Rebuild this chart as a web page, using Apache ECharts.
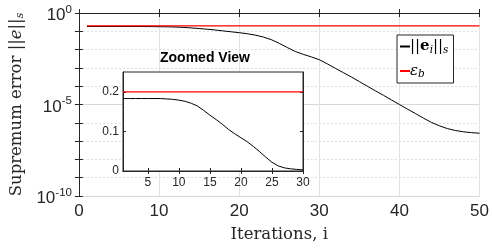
<!DOCTYPE html>
<html>
<head>
<meta charset="utf-8">
<script src="https://cdn.jsdelivr.net/npm/echarts@6/dist/echarts.min.js"></script>
<style>
  html, body { margin: 0; padding: 0; background: #fff; }
  #chart { width: 492px; height: 248px; }
</style>
</head>
<body>
<div id="chart"></div>
<script>
// iteration numbers
const iterations = [1, 2, 3, 4, 5, 6, 7, 8, 9, 10,
  11, 12, 13, 14, 15, 16, 17, 18, 19, 20,
  21, 22, 23, 24, 25, 26, 27, 28, 29, 30,
  31, 32, 33, 34, 35, 36, 37, 38, 39, 40,
  41, 42, 43, 44, 45, 46, 47, 48, 49, 50];
// supremum error ||e_i||_s
const errNorm = [0.183, 0.183, 0.183, 0.183, 0.183, 0.183, 0.183, 0.182, 0.181, 0.179,
  0.176, 0.171, 0.164, 0.153, 0.141, 0.130, 0.118, 0.105, 0.094, 0.084,
  0.074, 0.062, 0.049, 0.035, 0.022, 0.013, 0.0079, 0.0055, 0.0040, 0.0028,
  0.00166, 0.00095, 0.00055, 0.00032, 0.000178, 0.0001, 0.000056, 0.000032, 0.0000178, 0.00001,
  0.0000056, 0.0000032, 0.0000018, 0.00000105, 0.00000068, 0.00000048, 0.00000038, 0.00000032, 0.00000029, 0.00000027];
// bound eps_b
const boundIter = [1, 50];
const boundVals = [0.2, 0.2];
const zoomBoundIter = [1, 30];
const zoomCount = 30;
// tick labels
const mainYExps = [-10, -5, 0];
const zoomXTicks = [5, 10, 15, 20, 25, 30];
const zoomYTicks = [0, 0.1, 0.2];

const axisColor = '#262626';
const sans = 'Liberation Sans';
const serif = 'DejaVu Serif';

const chart = echarts.init(document.getElementById('chart'));

const mainErr = iterations.map((x, i) => [x, Math.log10(errNorm[i])]);
const mainBound = boundIter.map((x, i) => [x, Math.log10(boundVals[i])]);
const zoomErr = iterations.slice(0, zoomCount).map((x, i) => [x, errNorm[i]]);
const zoomBound = zoomBoundIter.map((x, i) => [x, boundVals[i]]);

const tickIn = (len) => ({ show: true, inside: true, length: len, lineStyle: { color: axisColor } });

const option = {
  animation: false,
  backgroundColor: '#fff',
  title: {
    text: 'Zoomed View',
    left: 160, top: 51, padding: 0,
    textStyle: { fontFamily: sans, fontWeight: 'bold', fontSize: 14, color: '#000' }
  },
  legend: {
    data: ['e', 'eps'],
    orient: 'vertical',
    left: 397, top: 35,
    padding: [4, 5, 3, 2],
    itemWidth: 10, itemHeight: 14, itemGap: 8,
    backgroundColor: '#fff',
    borderColor: axisColor, borderWidth: 1,
    itemStyle: { opacity: 0 },
    formatter: (n) => n === 'e' ? '{n|||}{b|e}{sub|i}{n|||}{sub|s}' : '{n|ε}{sub|b}',
    textStyle: {
      fontFamily: serif, fontSize: 15, color: '#000', padding: [0, 0, 0, -5],
      rich: {
        n: { fontFamily: serif, fontSize: 15, fontStyle: 'italic' },
        b: { fontFamily: serif, fontSize: 15, fontWeight: 'bold' },
        sub: { fontFamily: serif, fontSize: 10.5, fontStyle: 'italic', padding: [7, 0, 0, 0] }
      }
    }
  },
  grid: [
    { left: 77, right: 10, top: 13, bottom: 48 },
    { left: 123, right: 189, top: 72, bottom: 77, show: true, backgroundColor: '#fff',
      borderColor: axisColor, borderWidth: 1, z: 3 }
  ],
  xAxis: [
    { gridIndex: 0, type: 'value', position: 'bottom', min: 0, max: 50, interval: 10,
      axisLine: { lineStyle: { color: axisColor } },
      axisTick: tickIn(4),
      axisLabel: { fontFamily: sans, fontSize: 17, color: axisColor, margin: 7 },
      splitLine: { show: true, lineStyle: { color: '#e2e2e2', width: 1 } },
      name: 'Iterations, i', nameLocation: 'middle', nameGap: 30,
      nameTextStyle: { fontFamily: serif, fontSize: 16.5, color: axisColor } },
    { gridIndex: 0, type: 'value', position: 'top', min: 0, max: 50, interval: 10,
      axisLine: { show: true, lineStyle: { color: axisColor } },
      axisTick: tickIn(4), axisLabel: { show: false }, splitLine: { show: false } },
    { gridIndex: 1, type: 'value', position: 'bottom', min: 1, max: 30, z: 5,
      axisLine: { lineStyle: { color: axisColor } },
      axisTick: Object.assign(tickIn(3), { customValues: zoomXTicks }),
      axisLabel: { fontFamily: sans, fontSize: 12, color: axisColor, margin: 6, customValues: zoomXTicks },
      splitLine: { show: false } },
    { gridIndex: 1, type: 'value', position: 'top', min: 1, max: 30, z: 5,
      axisLine: { show: true, lineStyle: { color: axisColor } },
      axisTick: Object.assign(tickIn(3), { customValues: zoomXTicks }),
      axisLabel: { show: false }, splitLine: { show: false } }
  ],
  yAxis: [
    { gridIndex: 0, type: 'value', position: 'left', min: -10, max: 0, interval: 1,
      axisLine: { show: true, lineStyle: { color: axisColor } },
      axisTick: tickIn(4),
      axisLabel: {
        fontFamily: sans, fontSize: 17, color: axisColor, margin: 7,
        formatter: (v) => mainYExps.indexOf(v) >= 0 ? '{b|10}{sup|' + v + '}' : '',
        rich: {
          b: { fontFamily: sans, fontSize: 17, color: axisColor, padding: [5, 0, 0, 0] },
          sup: { fontFamily: sans, fontSize: 11.5, color: axisColor, padding: [0, 0, 7, 0] }
        }
      },
      splitLine: { show: true, lineStyle: { color: '#dedede', type: [2, 2], width: 1 } },
      name: 'Supremum error {n|||}{i|e}{n|||}{s|s}', nameLocation: 'middle', nameGap: 52,
      nameTextStyle: {
        fontFamily: serif, fontSize: 16.5, color: axisColor,
        rich: {
          n: { fontFamily: serif, fontSize: 16.5, color: axisColor },
          i: { fontFamily: serif, fontSize: 16.5, fontStyle: 'italic', color: axisColor },
          s: { fontFamily: serif, fontSize: 11, fontStyle: 'italic', color: axisColor, padding: [7, 0, 0, 0] }
        }
      } },
    { gridIndex: 0, type: 'value', position: 'right', min: -10, max: 0, interval: 1,
      axisLine: { show: true, lineStyle: { color: axisColor } },
      axisTick: tickIn(4), axisLabel: { show: false }, splitLine: { show: false } },
    { gridIndex: 0, type: 'value', position: 'right', min: -10, max: 0, interval: 5,
      axisLine: { show: false }, axisTick: { show: false }, axisLabel: { show: false },
      splitLine: { show: true, lineStyle: { color: '#d9d9d9', width: 1 } } },
    { gridIndex: 1, type: 'value', position: 'left', min: 0, max: 0.25, z: 5,
      axisLine: { show: true, lineStyle: { color: axisColor } },
      axisTick: Object.assign(tickIn(3), { customValues: zoomYTicks }),
      axisLabel: { fontFamily: sans, fontSize: 12, color: axisColor, margin: 4, customValues: zoomYTicks },
      splitLine: { show: false } },
    { gridIndex: 1, type: 'value', position: 'right', min: 0, max: 0.25, z: 5,
      axisLine: { show: true, lineStyle: { color: axisColor } },
      axisTick: Object.assign(tickIn(3), { customValues: zoomYTicks }),
      axisLabel: { show: false }, splitLine: { show: false } }
  ],
  series: [
    { name: 'e', type: 'line', xAxisIndex: 0, yAxisIndex: 0, data: mainErr, symbol: 'none',
      lineStyle: { color: '#000', width: 1 }, itemStyle: { color: '#000' } },
    { name: 'eps', type: 'line', xAxisIndex: 0, yAxisIndex: 0, data: mainBound, symbol: 'none',
      lineStyle: { color: '#f00', width: 1.2 }, itemStyle: { color: '#f00' } },
    { name: 'e', type: 'line', xAxisIndex: 2, yAxisIndex: 3, data: zoomErr, symbol: 'none', z: 6,
      lineStyle: { color: '#000', width: 1 }, itemStyle: { color: '#000' } },
    { name: 'eps', type: 'line', xAxisIndex: 2, yAxisIndex: 3, data: zoomBound, symbol: 'none', z: 6,
      lineStyle: { color: '#f00', width: 1.2 }, itemStyle: { color: '#f00' } }
  ]
};

chart.setOption(option);
</script>
</body>
</html>
